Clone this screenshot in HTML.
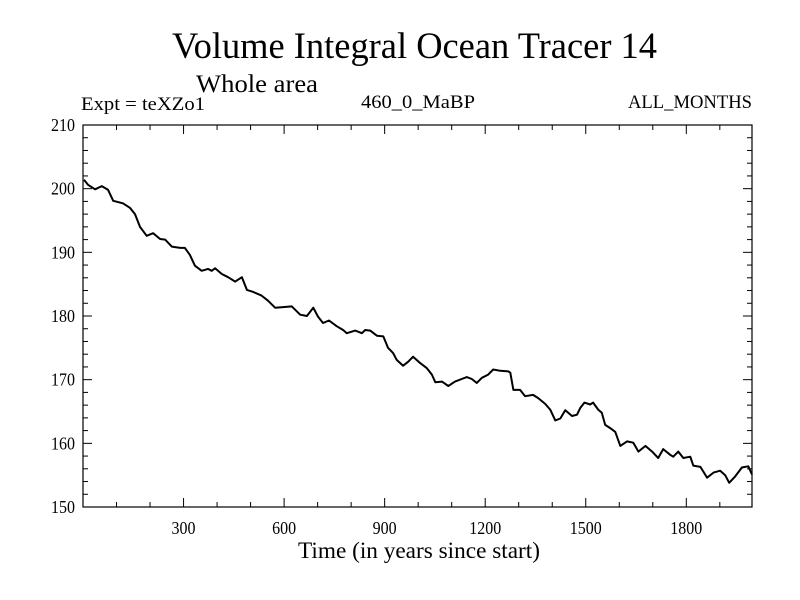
<!DOCTYPE html>
<html><head><meta charset="utf-8"><style>
html,body{margin:0;padding:0;background:#fff;}
svg{display:block;font-family:"Liberation Serif",serif;}
</style></head><body>
<svg id="chart" width="800" height="600">
<text x="172" y="58" font-size="37" textLength="485" lengthAdjust="spacingAndGlyphs">Volume Integral Ocean Tracer 14</text>
<text x="196" y="92" font-size="25" textLength="122" lengthAdjust="spacingAndGlyphs">Whole area</text>
<text x="81" y="110" font-size="19" textLength="124" lengthAdjust="spacingAndGlyphs">Expt = teXZo1</text>
<text x="361" y="108" font-size="19" textLength="114" lengthAdjust="spacingAndGlyphs">460_0_MaBP</text>
<text x="628" y="108" font-size="19" textLength="124" lengthAdjust="spacingAndGlyphs">ALL_MONTHS</text>
<text x="298" y="558" font-size="23" textLength="242" lengthAdjust="spacingAndGlyphs">Time (in years since start)</text>
<g id="axes"></g>
<path id="series" fill="none" stroke="#000" stroke-width="2" stroke-linejoin="round"/>
<rect x="83" y="125" width="669" height="382" fill="none" stroke="#000" stroke-width="1.2"/>
</svg>
<script>
const years = [3,15,36,56,75,90,119,140,155,170,190,209,230,245,265,290,304,319,334,354,373,384,394,414,433,454,474,489,507,533,552,573,597,623,648,668,687,701,716,734,757,776,787,812,832,842,857,877,896,910,925,936,955,970,985,1006,1026,1041,1051,1071,1090,1110,1130,1145,1160,1175,1190,1209,1224,1245,1269,1275,1284,1304,1319,1343,1358,1379,1394,1409,1424,1439,1459,1474,1484,1496,1513,1522,1537,1548,1558,1573,1588,1603,1623,1642,1657,1678,1698,1716,1731,1752,1761,1776,1791,1812,1821,1842,1862,1881,1901,1916,1928,1946,1966,1985,1996];
const values = [201.4,200.6,199.9,200.4,199.8,198.1,197.7,197,196,194,192.6,193,192.1,192,190.9,190.7,190.7,189.6,187.9,187.1,187.4,187.1,187.5,186.6,186.1,185.4,186.1,184.1,183.8,183.2,182.4,181.3,181.4,181.5,180.2,180,181.3,179.9,178.9,179.3,178.4,177.8,177.3,177.7,177.3,177.8,177.7,176.9,176.8,175,174.2,173.1,172.2,172.8,173.6,172.6,171.8,170.8,169.6,169.7,169,169.7,170.1,170.4,170.1,169.5,170.3,170.8,171.6,171.4,171.3,171.1,168.4,168.4,167.4,167.6,167.1,166.2,165.3,163.6,163.9,165.2,164.3,164.5,165.6,166.4,166.1,166.4,165.3,164.8,162.9,162.4,161.8,159.6,160.3,160.1,158.7,159.6,158.7,157.7,159.1,158.2,157.9,158.7,157.7,157.9,156.5,156.3,154.6,155.4,155.7,155,153.8,154.8,156.2,156.4,155.1];
const xTickLabels = ["300","600","900","1200","1500","1800"];
const yTickLabels = ["150","160","170","180","190","200","210"];
const X0=83,X1=752,Y0=507,Y1=125,XMIN=0,XMAX=1996,YMIN=150,YMAX=210;
function sx(v){return X0+(v-XMIN)/(XMAX-XMIN)*(X1-X0);}
function sy(v){return Y0-(v-YMIN)/(YMAX-YMIN)*(Y0-Y1);}
const NS="http://www.w3.org/2000/svg";
const axes=document.getElementById('axes');
function line(x1,y1,x2,y2,name){
  const l=document.createElementNS(NS,'line');
  l.setAttribute('x1',x1);l.setAttribute('y1',y1);l.setAttribute('x2',x2);l.setAttribute('y2',y2);
  l.setAttribute('stroke','#000');l.setAttribute('stroke-width','1');
  
  
  axes.appendChild(l);
}
function text(x,y,s,anchor,name){
  const t=document.createElementNS(NS,'text');
  t.setAttribute('x',x);t.setAttribute('y',y);t.setAttribute('font-size','18');t.setAttribute('text-anchor',anchor);
  t.setAttribute('textLength', String(s.length*8));
  t.setAttribute('lengthAdjust','spacingAndGlyphs');
  t.textContent=s;
  
  
  axes.appendChild(t);
}
for(let v=100;v<XMAX;v+=100){
  const x=sx(v), major=v%300===0, len=major?9:5;
  line(x,Y0,x,Y0-len,'x-tick');
  line(x,Y1,x,Y1+len,'x-tick-top');
}
xTickLabels.forEach(s=>{text(sx(+s),Y0+27,s,'middle','x-tick-label');});
for(let v=YMIN;v<=YMAX;v+=2){
  const y=sy(v), major=(v%10===0), len=major?9:5;
  line(X0,y,X0+len,y,'y-tick');
  line(X1,y,X1-len,y,'y-tick-right');
}
yTickLabels.forEach(s=>{text(X0-8,sy(+s)+6,s,'end','y-tick-label');});
let d='';
years.forEach((yr,i)=>{d+=(i?'L':'M')+sx(yr).toFixed(1)+','+sy(values[i]).toFixed(1);});
document.getElementById('series').setAttribute('d',d);
</script>
</body></html>
